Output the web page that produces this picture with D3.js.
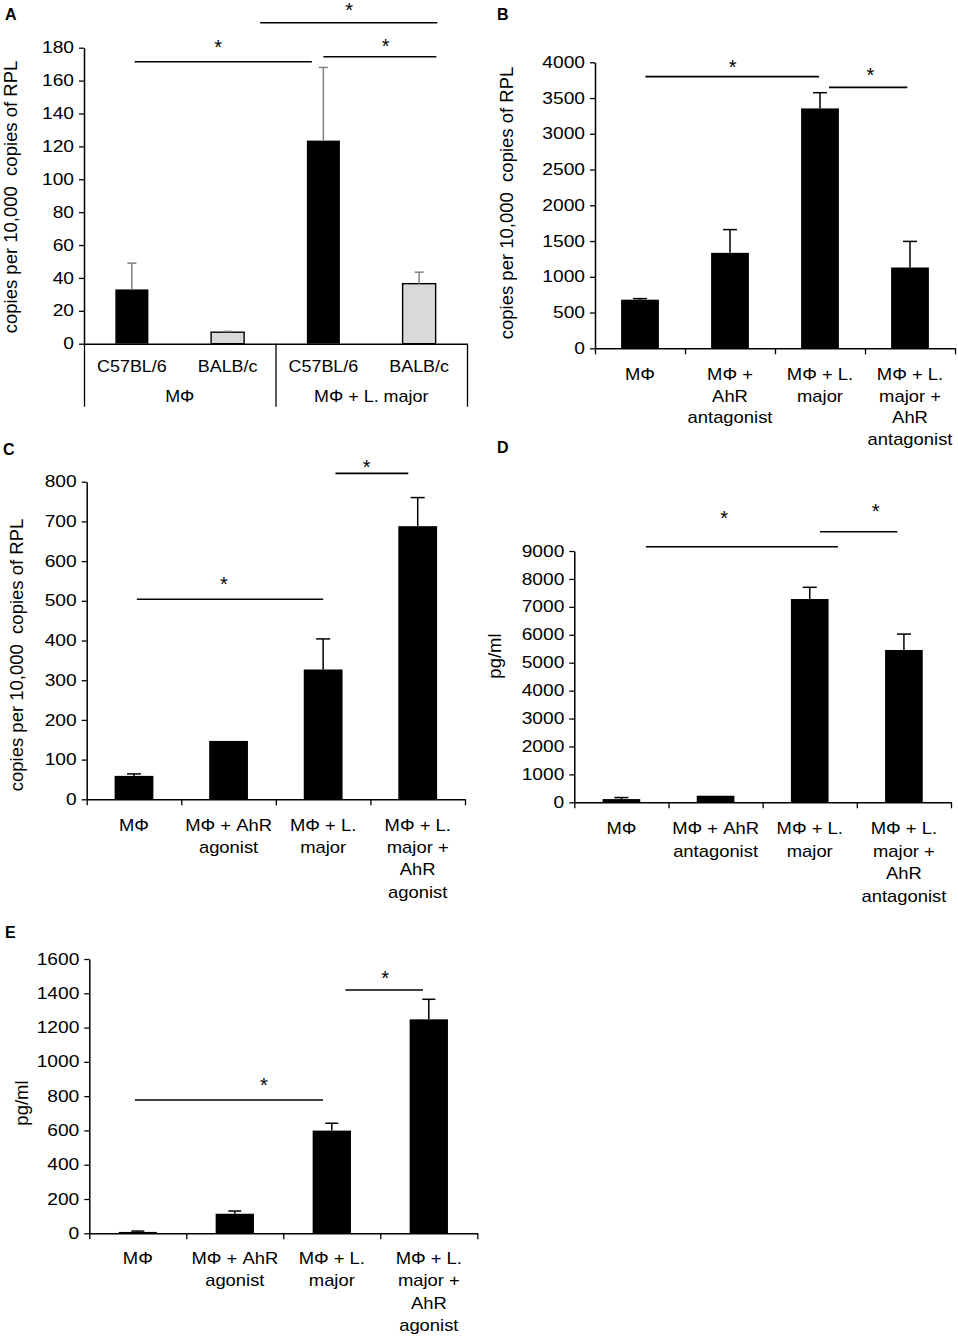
<!DOCTYPE html>
<html lang="en">
<head>
<meta charset="utf-8">
<title>AhR / L. major bar charts</title>
<script src="https://d3js.org/d3.v7.min.js"></script>
<style>
  body { margin: 0; background: #fff; }
  svg { display: block; font-family: "Liberation Sans", Arial, sans-serif; }
  .tick text { font-size: 16px; fill: #000; }
  .cat { font-size: 16px; fill: #000; }
  .ylab { font-size: 18.5px; fill: #000; }
  .letter { font-size: 16px; font-weight: bold; }
  .star { font-size: 20px; }
</style>
</head>
<body>
<script>
// ---- data ----
// A
const catsA   = ["C57BL/6", "BALB/c", "C57BL/6", "BALB/c"];
const groupsA = ["MΦ", "MΦ + L. major"];
const valsA   = [33, 7, 123.5, 36.5];
const errsA   = [16, 0.5, 44.5, 7];
const fillsA  = ["#000", "#d9d9d9", "#000", "#d9d9d9"];
const ticksA  = [0, 20, 40, 60, 80, 100, 120, 140, 160, 180];
// significance bars: x in category units, y in data units, star position
const sigA = [
  {x1: 0.03, x2: 1.88, y: 171.5, sx: 0.90, sy: 183},
  {x1: 2.00, x2: 3.18, y: 174.5, sx: 2.65, sy: 183.6},
  {x1: 1.34, x2: 3.19, y: 195.2, sx: 2.27, sy: 205.4}
];

// B
const catsB  = ["MΦ", "MΦ +|AhR|antagonist", "MΦ + L.|major", "MΦ + L.|major +|AhR|antagonist"];
const valsB  = [680, 1335, 3355, 1130];
const errsB  = [15, 325, 220, 365];
const ticksB = [0, 500, 1000, 1500, 2000, 2500, 3000, 3500, 4000];
const sigB = [
  {x1: 0.06, x2: 1.99, y: 3800, sx: 1.03, sy: 3994},
  {x1: 2.10, x2: 2.97, y: 3650, sx: 2.56, sy: 3892}
];

// C
const catsC  = ["MΦ", "MΦ + AhR|agonist", "MΦ + L.|major", "MΦ + L.|major +|AhR|agonist"];
const valsC  = [59, 147, 327, 688];
const errsC  = [5, 0, 77, 72];
const ticksC = [0, 100, 200, 300, 400, 500, 600, 700, 800];
const sigC = [
  {x1: 0.03, x2: 2.00, y: 504, sx: 0.95, sy: 554},
  {x1: 2.13, x2: 2.90, y: 821, sx: 2.46, sy: 848}
];

// D
const catsD  = ["MΦ", "MΦ + AhR|antagonist", "MΦ + L.|major", "MΦ + L.|major +|AhR|antagonist"];
const valsD  = [115, 235, 7280, 5455];
const errsD  = [55, 0, 420, 570];
const ticksD = [0, 1000, 2000, 3000, 4000, 5000, 6000, 7000, 8000, 9000];
const sigD = [
  {x1: 0.26, x2: 2.30, y: 9154, sx: 1.09, sy: 10350},
  {x1: 2.11, x2: 2.93, y: 9691, sx: 2.70, sy: 10587}
];

// E
const catsE  = ["MΦ", "MΦ + AhR|agonist", "MΦ + L.|major", "MΦ + L.|major +|AhR|agonist"];
const valsE  = [8, 114, 599, 1248];
const errsE  = [5, 16, 43, 117];
const ticksE = [0, 200, 400, 600, 800, 1000, 1200, 1400, 1600];
const sigE = [
  {x1: -0.03, x2: 1.91, y: 777.5, sx: 1.30, sy: 894},
  {x1: 2.14, x2: 2.94, y: 1419, sx: 2.55, sy: 1517}
];

const rpl = "copies per 10,000\u00a0 copies of RPL";

// ---- layout ----
const W = 958, H = 1339;
const SX = 1.2;   // text in the figure is stretched horizontally

const svg = d3.select("body").append("svg")
    .attr("width", W)
    .attr("height", H);

svg.append("rect").attr("width", W).attr("height", H).attr("fill", "#fff");

function panel(p) {
    const g = svg.append("g");
    const n = p.vals.length;
    const top = p.ticks[p.ticks.length - 1];

    const y = d3.scaleLinear().domain([0, top]).range([p.y0, p.yTop]);
    const x = d3.scaleBand().domain(d3.range(n)).range([p.x0, p.x1]);
    const u = d3.scaleLinear().domain([-0.5, n - 0.5]).range([p.x0, p.x1]); // category units
    const bw = x.bandwidth() * p.barFrac;

    // bars
    g.selectAll("rect.bar")
        .data(p.vals)
        .enter()
        .append("rect")
        .attr("class", "bar")
        .attr("x", (d, i) => x(i) + (x.bandwidth() - bw) / 2)
        .attr("y", d => y(d))
        .attr("width", bw)
        .attr("height", d => y(0) - y(d))
        .attr("fill", (d, i) => p.fills ? p.fills[i] : "#000")
        .attr("stroke", "#000")
        .attr("stroke-width", (d, i) => p.fills && p.fills[i] !== "#000" ? 1.4 : 0);

    // error bars (upper only)
    const eb = g.selectAll("g.err")
        .data(p.vals.map((v, i) => ({v: v, e: p.errs[i], i: i})).filter(d => d.e > 0))
        .enter()
        .append("g")
        .attr("class", "err")
        .attr("stroke", p.errColor)
        .attr("stroke-width", 1.5);
    eb.append("line")
        .attr("x1", d => u(d.i)).attr("x2", d => u(d.i))
        .attr("y1", d => y(d.v)).attr("y2", d => y(d.v + d.e));
    eb.append("line")
        .attr("x1", d => u(d.i) - p.cap / 2).attr("x2", d => u(d.i) + p.cap / 2)
        .attr("y1", d => y(d.v + d.e)).attr("y2", d => y(d.v + d.e));

    // y axis
    const ya = g.append("g")
        .attr("transform", "translate(" + p.x0 + ",0)")
        .call(d3.axisLeft(y).tickValues(p.ticks).tickFormat(d3.format("d")).tickSize(5).tickSizeOuter(0));
    ya.select(".domain").attr("stroke-width", 1.5);
    ya.selectAll(".tick line").attr("stroke-width", 1.3);
    ya.selectAll(".tick text")
        .attr("font-family", null)
        .attr("font-size", null)
        .attr("x", -10 / SX)
        .attr("transform", "scale(" + SX + ",1)");

    // x axis: boundaries between categories
    const bounds = p.groupTicks || d3.range(n + 1).map(i => i - 0.5);
    const xa = g.append("g")
        .attr("transform", "translate(0," + p.y0 + ")")
        .call(d3.axisBottom(u).tickValues(bounds).tickSize(p.xTick).tickSizeOuter(0).tickFormat(""));
    xa.select(".domain").attr("stroke-width", 1.5);
    xa.selectAll(".tick line").attr("stroke-width", 1.3);

    // category labels
    const cl = g.selectAll("text.cat")
        .data(p.cats)
        .enter()
        .append("text")
        .attr("class", "cat")
        .attr("text-anchor", "middle")
        .attr("transform", (d, i) => "translate(" + u(i) + "," + p.labY + ") scale(" + p.catSX + ",1)");
    cl.selectAll("tspan")
        .data(d => d.split("|"))
        .enter()
        .append("tspan")
        .attr("x", 0)
        .attr("y", (d, j) => j * p.lineH)
        .text(d => d);

    if (p.groups) {
        g.selectAll("text.grp")
            .data(p.groups)
            .enter()
            .append("text")
            .attr("class", "cat")
            .attr("text-anchor", "middle")
            .attr("transform", (d, i) => "translate(" + u(i * 2 + 0.5) + "," + p.grpY + ") scale(" + p.catSX + ",1)")
            .text(d => d);
    }

    // significance lines and stars
    g.selectAll("line.sig")
        .data(p.sig)
        .enter()
        .append("line")
        .attr("class", "sig")
        .attr("x1", d => u(d.x1)).attr("x2", d => u(d.x2))
        .attr("y1", d => y(d.y)).attr("y2", d => y(d.y))
        .attr("stroke", "#000")
        .attr("stroke-width", 1.6);
    g.selectAll("text.star")
        .data(p.sig)
        .enter()
        .append("text")
        .attr("class", "star")
        .attr("text-anchor", "middle")
        .attr("transform", d => "translate(" + u(d.sx) + "," + (y(d.sy) + 11.5) + ")")
        .text("*");

    // y label
    g.append("text")
        .attr("class", "ylab")
        .attr("text-anchor", "middle")
        .attr("transform", "translate(" + p.ylx + "," + p.yly + ") rotate(-90)")
        .text(p.ylab);

    // panel letter
    g.append("text")
        .attr("class", "letter")
        .attr("x", p.lx).attr("y", p.ly)
        .text(p.letter);
}

panel({letter: "A", lx: 5, ly: 20,
       cats: catsA, groups: groupsA, vals: valsA, errs: errsA, fills: fillsA, ticks: ticksA, sig: sigA,
       x0: 84, x1: 467, yTop: 47.7, y0: 343.7, barFrac: 0.345, cap: 9, errColor: "#808080",
       groupTicks: [-0.5, 1.5, 3.5], xTick: 63,
       labY: 371.5, grpY: 402, lineH: 22, catSX: 1.12,
       ylab: rpl, ylx: 16.7, yly: 197});

panel({letter: "B", lx: 497, ly: 20,
       cats: catsB, vals: valsB, errs: errsB, ticks: ticksB, sig: sigB,
       x0: 595, x1: 955, yTop: 62.3, y0: 348.3, barFrac: 0.42, cap: 14, errColor: "#000",
       xTick: 6, labY: 380, lineH: 21.7, catSX: 1.15,
       ylab: rpl, ylx: 513, yly: 203});

panel({letter: "C", lx: 3, ly: 455,
       cats: catsC, vals: valsC, errs: errsC, ticks: ticksC, sig: sigC,
       x0: 86.7, x1: 465, yTop: 481.7, y0: 799.3, barFrac: 0.41, cap: 14, errColor: "#000",
       xTick: 6, labY: 830.7, lineH: 22.3, catSX: 1.15,
       ylab: rpl, ylx: 23, yly: 655});

panel({letter: "D", lx: 497, ly: 453,
       cats: catsD, vals: valsD, errs: errsD, ticks: ticksD, sig: sigD,
       x0: 574.3, x1: 951, yTop: 551, y0: 802.3, barFrac: 0.40, cap: 14, errColor: "#000",
       xTick: 6, labY: 834, lineH: 22.7, catSX: 1.15,
       ylab: "pg/ml", ylx: 501, yly: 656});

panel({letter: "E", lx: 5, ly: 938,
       cats: catsE, vals: valsE, errs: errsE, ticks: ticksE, sig: sigE,
       x0: 89.3, x1: 477.3, yTop: 959, y0: 1233.3, barFrac: 0.395, cap: 13, errColor: "#000",
       xTick: 6, labY: 1264, lineH: 22.3, catSX: 1.15,
       ylab: "pg/ml", ylx: 28, yly: 1103});
</script>
</body>
</html>
